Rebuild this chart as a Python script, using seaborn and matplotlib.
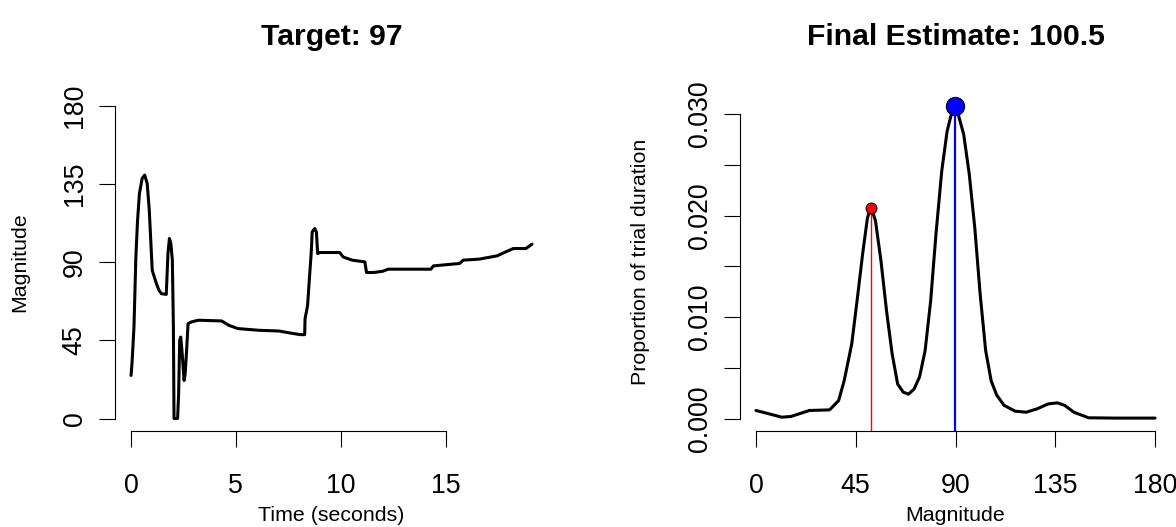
import matplotlib
matplotlib.use("Agg")
import matplotlib.pyplot as plt
import numpy as np
import pandas as pd
import seaborn as sns

# ---------------- data ----------------
time_s = [0.00, 0.05, 0.14, 0.23, 0.31, 0.40, 0.53, 0.65, 0.77, 0.87, 0.94, 1.01,
          1.11, 1.21, 1.33, 1.45, 1.68, 1.76, 1.83, 1.90, 1.97, 2.02, 2.05, 2.22,
          2.27, 2.32, 2.37, 2.44, 2.53, 2.58, 2.65, 2.72, 2.87, 3.21, 4.32, 4.66,
          5.09, 6.11, 7.05, 7.56, 8.07, 8.28, 8.30, 8.42, 8.50, 8.59, 8.64, 8.76,
          8.84, 8.90, 9.01, 9.95, 10.12, 10.55, 11.15, 11.23, 11.57, 12.00, 12.26,
          14.30, 14.42, 15.67, 15.84, 16.61, 17.46, 17.80, 18.23, 18.83, 19.12]
magnitude_trace = [24.8, 32.5, 52.7, 93, 114, 129.6, 138.3, 140.2, 135.4, 120, 102.7, 85.4,
                   81.5, 77.7, 73.9, 71.9, 71.5, 95, 103.7, 100.8, 91.2, 52.7, 0, 0,
                   14.2, 45, 46.9, 37.3, 21.9, 25.7, 39.2, 54.6, 55.6, 56.6, 56.2, 53.7,
                   51.8, 50.8, 50.4, 49.3, 48.3, 48.3, 57.5, 65.2, 79.6, 95, 107.5, 109.4,
                   107.5, 95, 95.6, 95.6, 93, 91.2, 90.2, 84.1, 84.1, 84.8, 86,
                   86, 87.9, 89.3, 91.2, 91.8, 93.7, 95.6, 97.9, 97.9, 100.4]

density_x = [0, 5.9, 11.6, 15.8, 24.1, 33.2, 37.3, 39.8, 43.2, 45.6, 48.1, 50.3, 51.9,
             53.9, 56.4, 58.9, 61.4, 63.9, 66.4, 68.8, 71.3, 73.8, 76.3, 78.8, 81.2,
             83.8, 86.2, 87.9, 89.8, 91.2, 93.7, 96.2, 98.7, 101.1, 103.6, 106.1, 108.6,
             111.9, 116.9, 121.9, 126.8, 131.8, 135.9, 139.2, 143.4, 150, 161.6, 180]
density_y = [0.00079, 0.00046, 0.00013, 0.00020, 0.00079, 0.00085, 0.00177, 0.00374,
             0.00735, 0.0116, 0.0162, 0.0198, 0.0208, 0.0195, 0.0155, 0.0106, 0.0064,
             0.0034, 0.0026, 0.0024, 0.0029, 0.0041, 0.0067, 0.0116, 0.0182, 0.0244,
             0.0283, 0.0298, 0.0308, 0.0300, 0.0280, 0.0241, 0.0188, 0.0123, 0.0067,
             0.0037, 0.0023, 0.0013, 0.00072, 0.00062, 0.00095, 0.00144, 0.00154,
             0.0013, 0.00062, 0.00007, 0.00004, 0.00004]

red_peak = (51.9, 0.0207)
blue_peak = (89.8, 0.0308)

left_title = "Target: 97"
right_title = "Final Estimate: 100.5"
left_xticks = [0, 5, 10, 15]
left_yticks = [0, 45, 90, 135, 180]
right_xticks = [0, 45, 90, 135, 180]
right_yticks = [0.000, 0.005, 0.010, 0.015, 0.020, 0.025, 0.030]
right_yticklabels = ["0.000", "", "0.010", "", "0.020", "", "0.030"]

# ---------------- style ----------------
sns.set_style("ticks")
plt.rcParams["font.family"] = ["Liberation Sans", "DejaVu Sans"]
plt.rcParams["text.color"] = "black"
plt.rcParams["axes.labelcolor"] = "black"
plt.rcParams["xtick.color"] = "black"
plt.rcParams["ytick.color"] = "black"

W, H = 1176, 527
fig = plt.figure(figsize=(W / 100, H / 100), dpi=100)
ax1 = fig.add_axes([115 / W, 96 / H, 433 / W, 337.5 / H])
ax2 = fig.add_axes([740 / W, 96 / H, 431 / W, 337.5 / H])

TICK_FS = 19.3
LAB_FS = 15.4
TITLE_FS = 21.7

df_trace = pd.DataFrame({"t": time_s, "m": magnitude_trace})
df_dens = pd.DataFrame({"x": density_x, "y": density_y})

sns.lineplot(data=df_trace, x="t", y="m", ax=ax1, color="black", linewidth=2.2,
             sort=False, estimator=None)
sns.lineplot(data=df_dens, x="x", y="y", ax=ax2, color="black", linewidth=2.2,
             sort=False, estimator=None)

# axis limits like R (4% extension)
tmin, tmax = min(time_s), max(time_s)
tr = tmax - tmin
ax1.set_xlim(tmin - 0.04 * tr, tmax + 0.04 * tr)
ax1.set_ylim(0 - 0.04 * 180, 180 + 0.04 * 180)
ax2.set_xlim(0 - 0.04 * 180, 180 + 0.04 * 180)
ymax2 = max(density_y)
y2lo = -0.04 * ymax2
ax2.set_ylim(y2lo, ymax2 * 1.04)

# peak markers
ax2.vlines(red_peak[0], y2lo, red_peak[1], color="#ff0000", linewidth=1.0, zorder=3)
ax2.vlines(blue_peak[0], y2lo, blue_peak[1], color="#0000ff", linewidth=1.6, zorder=3)
sns.scatterplot(x=[red_peak[0]], y=[red_peak[1]], ax=ax2, color="#ff0000", s=62,
                edgecolor="black", linewidth=0.7, zorder=4)
sns.scatterplot(x=[blue_peak[0]], y=[blue_peak[1]], ax=ax2, color="#0000ff", s=175,
                edgecolor="black", linewidth=0.7, zorder=4)

for ax in (ax1, ax2):
    for s in ("top", "right"):
        ax.spines[s].set_visible(False)
    for s in ("left", "bottom"):
        ax.spines[s].set_color("black")
        ax.spines[s].set_linewidth(0.8)
    ax.tick_params(axis="both", which="both", direction="out", length=11.5, width=0.8,
                   color="black", labelsize=TICK_FS, labelcolor="black",
                   bottom=True, left=True)
    ax.tick_params(axis="x", pad=18.5)
    ax.tick_params(axis="y", pad=8.2)

ax1.set_xticks(left_xticks)
ax1.set_xticklabels([str(v) for v in left_xticks])
ax1.set_yticks(left_yticks)
ax1.set_yticklabels([str(v) for v in left_yticks], rotation=90, va="center")
ax1.spines["left"].set_bounds(0, 180)
ax1.spines["bottom"].set_bounds(0, 15)

ax2.set_xticks(right_xticks)
ax2.set_xticklabels([str(v) for v in right_xticks])
ax2.set_yticks(right_yticks)
ax2.set_yticklabels(right_yticklabels, rotation=90, va="center")
ax2.spines["left"].set_bounds(0, 0.030)
ax2.spines["bottom"].set_bounds(0, 180)

ax1.set_xlabel("Time (seconds)", fontsize=LAB_FS, color="black")
ax1.set_ylabel("Magnitude", fontsize=LAB_FS, color="black")
ax2.set_xlabel("Magnitude", fontsize=LAB_FS, color="black")
ax2.set_ylabel("Proportion of trial duration", fontsize=LAB_FS, color="black")
ax1.xaxis.set_label_coords(0.5, -0.2237)
ax2.xaxis.set_label_coords(0.5, -0.2237)
ax1.yaxis.set_label_coords(-0.197, 0.5)
ax2.yaxis.set_label_coords(-0.209, 0.5)

ax1.set_title(left_title, fontsize=TITLE_FS, fontweight="bold", pad=35.0, color="black")
ax2.set_title(right_title, fontsize=TITLE_FS, fontweight="bold", pad=35.0, color="black")

fig.savefig("out.png", dpi=100)
